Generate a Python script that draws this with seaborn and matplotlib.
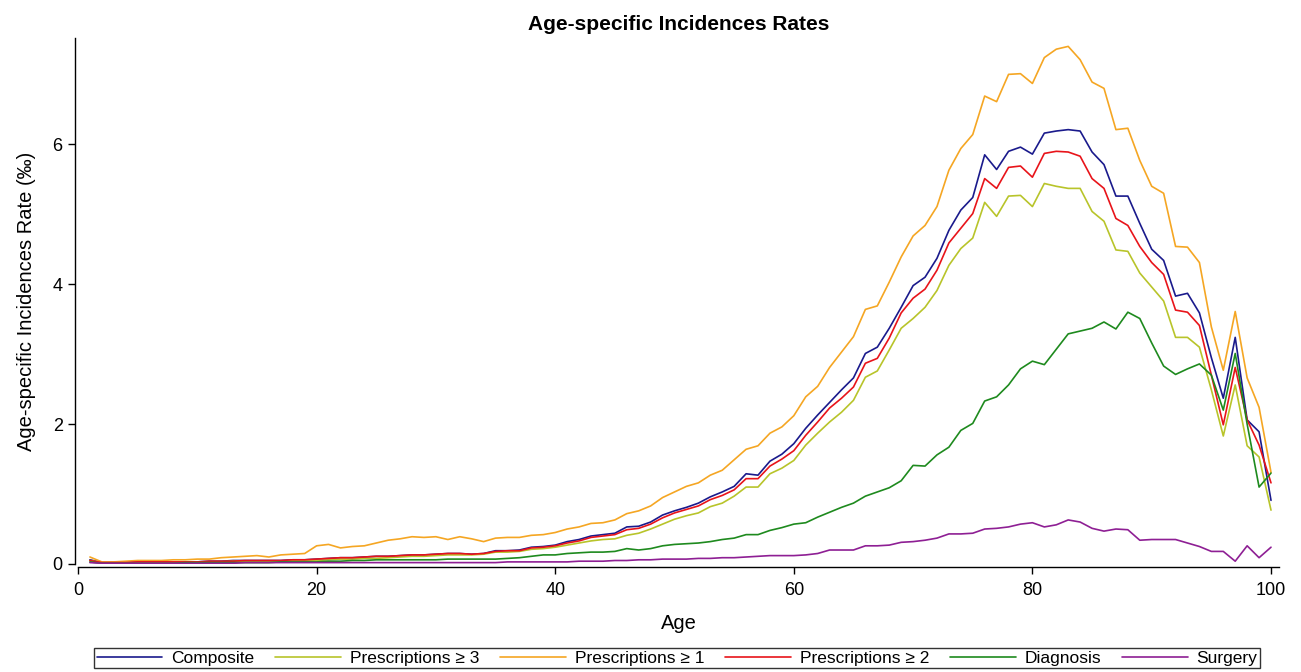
import pandas as pd
import numpy as np
import matplotlib
matplotlib.use("Agg")
import matplotlib.pyplot as plt
import seaborn as sns

ages = list(range(1, 101))

composite = [
    0.06, 0.02, 0.02, 0.02, 0.03, 0.03, 0.03, 0.03, 0.03, 0.03,
    0.04, 0.04, 0.05, 0.05, 0.05, 0.05, 0.05, 0.06, 0.06, 0.07,
    0.08, 0.09, 0.09, 0.10, 0.11, 0.11, 0.12, 0.13, 0.13, 0.14,
    0.15, 0.15, 0.14, 0.15, 0.19, 0.19, 0.20, 0.24, 0.25, 0.27,
    0.32, 0.35, 0.40, 0.42, 0.44, 0.53, 0.54, 0.60, 0.70, 0.76,
    0.81, 0.87, 0.96, 1.03, 1.11, 1.29, 1.27, 1.47, 1.57, 1.72,
    1.94, 2.13, 2.31, 2.49, 2.66, 3.01, 3.10, 3.37, 3.67, 3.98,
    4.10, 4.37, 4.77, 5.06, 5.24, 5.85, 5.64, 5.90, 5.96, 5.86,
    6.16, 6.19, 6.21, 6.19, 5.89, 5.71, 5.26, 5.26, 4.87, 4.50,
    4.34, 3.83, 3.87, 3.59, 2.95, 2.37, 3.24, 2.06, 1.89, 0.91,
]

presc3 = [
    0.05, 0.02, 0.02, 0.02, 0.02, 0.02, 0.02, 0.03, 0.03, 0.03,
    0.03, 0.03, 0.04, 0.04, 0.04, 0.04, 0.04, 0.05, 0.05, 0.05,
    0.06, 0.07, 0.07, 0.08, 0.08, 0.09, 0.10, 0.11, 0.11, 0.12,
    0.13, 0.13, 0.13, 0.14, 0.17, 0.17, 0.18, 0.21, 0.22, 0.24,
    0.27, 0.30, 0.33, 0.35, 0.36, 0.41, 0.44, 0.50, 0.57, 0.64,
    0.69, 0.73, 0.82, 0.87, 0.97, 1.10, 1.10, 1.29, 1.37, 1.48,
    1.70, 1.87, 2.03, 2.17, 2.34, 2.67, 2.76, 3.06, 3.37, 3.51,
    3.67, 3.91, 4.27, 4.51, 4.66, 5.17, 4.97, 5.26, 5.27, 5.11,
    5.44, 5.40, 5.37, 5.37, 5.04, 4.90, 4.49, 4.47, 4.16, 3.96,
    3.76, 3.24, 3.24, 3.10, 2.49, 1.83, 2.56, 1.69, 1.53, 0.77,
]

presc1 = [
    0.10, 0.03, 0.03, 0.04, 0.05, 0.05, 0.05, 0.06, 0.06, 0.07,
    0.07, 0.09, 0.10, 0.11, 0.12, 0.10, 0.13, 0.14, 0.15, 0.26,
    0.28, 0.23, 0.25, 0.26, 0.30, 0.34, 0.36, 0.39, 0.38, 0.39,
    0.35, 0.39, 0.36, 0.32, 0.37, 0.38, 0.38, 0.41, 0.42, 0.45,
    0.50, 0.53, 0.58, 0.59, 0.63, 0.72, 0.76, 0.83, 0.95, 1.03,
    1.11, 1.16, 1.27, 1.34, 1.49, 1.64, 1.69, 1.87, 1.96, 2.12,
    2.39, 2.54, 2.81, 3.03, 3.25, 3.64, 3.69, 4.03, 4.39, 4.69,
    4.84, 5.11, 5.63, 5.94, 6.14, 6.69, 6.61, 7.00, 7.01, 6.87,
    7.24, 7.36, 7.40, 7.21, 6.89, 6.80, 6.21, 6.23, 5.77, 5.40,
    5.30, 4.54, 4.53, 4.31, 3.39, 2.77, 3.61, 2.66, 2.24, 1.31,
]

presc2 = [
    0.05, 0.02, 0.02, 0.02, 0.03, 0.03, 0.03, 0.03, 0.03, 0.03,
    0.04, 0.04, 0.04, 0.05, 0.05, 0.05, 0.05, 0.06, 0.06, 0.07,
    0.08, 0.09, 0.09, 0.10, 0.11, 0.11, 0.12, 0.13, 0.13, 0.14,
    0.15, 0.15, 0.14, 0.15, 0.18, 0.19, 0.19, 0.23, 0.24, 0.26,
    0.30, 0.33, 0.38, 0.40, 0.42, 0.49, 0.51, 0.57, 0.66, 0.73,
    0.78, 0.83, 0.92, 0.98, 1.06, 1.22, 1.22, 1.40, 1.50, 1.62,
    1.84, 2.03, 2.23, 2.37, 2.53, 2.87, 2.94, 3.23, 3.59, 3.80,
    3.93, 4.20, 4.59, 4.80, 5.01, 5.51, 5.37, 5.67, 5.69, 5.53,
    5.87, 5.90, 5.89, 5.83, 5.51, 5.37, 4.94, 4.84, 4.54, 4.31,
    4.14, 3.63, 3.60, 3.41, 2.70, 1.99, 2.81, 2.06, 1.70, 1.16,
]

diagnosis = [
    0.03, 0.01, 0.01, 0.01, 0.01, 0.01, 0.01, 0.01, 0.02, 0.02,
    0.02, 0.02, 0.02, 0.02, 0.02, 0.02, 0.03, 0.03, 0.03, 0.03,
    0.04, 0.04, 0.05, 0.05, 0.06, 0.06, 0.06, 0.06, 0.06, 0.06,
    0.07, 0.07, 0.07, 0.07, 0.07, 0.08, 0.09, 0.11, 0.13, 0.13,
    0.15, 0.16, 0.17, 0.17, 0.18, 0.22, 0.20, 0.22, 0.26, 0.28,
    0.29, 0.30, 0.32, 0.35, 0.37, 0.42, 0.42, 0.48, 0.52, 0.57,
    0.59, 0.67, 0.74, 0.81, 0.87, 0.97, 1.03, 1.09, 1.19, 1.41,
    1.40, 1.56, 1.67, 1.91, 2.01, 2.33, 2.39, 2.56, 2.79, 2.90,
    2.85, 3.07, 3.29, 3.33, 3.37, 3.46, 3.36, 3.60, 3.51, 3.16,
    2.83, 2.71, 2.79, 2.86, 2.70, 2.20, 3.01, 2.00, 1.10, 1.30,
]

surgery = [
    0.02, 0.01, 0.01, 0.01, 0.01, 0.01, 0.01, 0.01, 0.01, 0.01,
    0.01, 0.01, 0.01, 0.02, 0.02, 0.02, 0.02, 0.02, 0.02, 0.02,
    0.02, 0.02, 0.02, 0.02, 0.02, 0.02, 0.02, 0.02, 0.02, 0.02,
    0.02, 0.02, 0.02, 0.02, 0.02, 0.03, 0.03, 0.03, 0.03, 0.03,
    0.03, 0.04, 0.04, 0.04, 0.05, 0.05, 0.06, 0.06, 0.07, 0.07,
    0.07, 0.08, 0.08, 0.09, 0.09, 0.10, 0.11, 0.12, 0.12, 0.12,
    0.13, 0.15, 0.20, 0.20, 0.20, 0.26, 0.26, 0.27, 0.31, 0.32,
    0.34, 0.37, 0.43, 0.43, 0.44, 0.50, 0.51, 0.53, 0.57, 0.59,
    0.53, 0.56, 0.63, 0.60, 0.51, 0.47, 0.50, 0.49, 0.34, 0.35,
    0.35, 0.35, 0.30, 0.25, 0.18, 0.18, 0.04, 0.26, 0.09, 0.24,
]

labels = ["Composite", "Prescriptions \u2265 3", "Prescriptions \u2265 1",
          "Prescriptions \u2265 2", "Diagnosis", "Surgery"]
colors = ["#1a1a8c", "#b8c42a", "#f5a623", "#e8141a", "#1e8a1e", "#8e1f94"]

series = [composite, presc3, presc1, presc2, diagnosis, surgery]
df = pd.concat(
    [pd.DataFrame({"age": ages, "rate": vals, "group": lab}) for lab, vals in zip(labels, series)],
    ignore_index=True,
)

sns.set_style("ticks")
plt.rcParams["font.family"] = ["Liberation Sans", "DejaVu Sans"]
plt.rcParams["text.color"] = "black"
plt.rcParams["axes.labelcolor"] = "black"

fig = plt.figure(figsize=(13.01, 6.72), dpi=100)
ax = fig.add_axes([78 / 1301, 1 - 564 / 672, (1279 - 78) / 1301, (564 - 38) / 672])

sns.lineplot(data=df, x="age", y="rate", hue="group", hue_order=labels,
             palette=dict(zip(labels, colors)), linewidth=1.2, ax=ax, legend=False)

ax.set_xlim(0, 100.67)
ax.set_ylim(0, 7.52)
ax.set_xticks([0, 20, 40, 60, 80, 100])
ax.set_yticks([0, 2, 4, 6])
ax.tick_params(labelsize=13, length=5, width=1, colors="black")
ax.tick_params(axis="x", pad=6)
ax.tick_params(axis="y", pad=4)
ax.set_xlabel("Age", fontsize=14.5, labelpad=11)
ax.set_ylabel("Age-specific Incidences Rate (\u2030)", fontsize=14.5, labelpad=12)
ax.set_title("Age-specific Incidences Rates", fontsize=15, fontweight="bold", pad=6)
sns.despine(ax=ax, offset=2)
for sp in ["left", "bottom"]:
    ax.spines[sp].set_linewidth(1.0)
    ax.spines[sp].set_color("black")

handles = [plt.Line2D([], [], color=c, lw=1.2) for c in colors]
leg = fig.legend(handles, labels, loc="lower center", bbox_to_anchor=(677 / 1301, 0.0),
                 ncol=6, fontsize=12.5, frameon=True, fancybox=False, handlelength=3.8,
                 handletextpad=0.5, columnspacing=1.2, borderpad=0.12, borderaxespad=0.25)
leg.get_frame().set_edgecolor("black")
leg.get_frame().set_linewidth(1.0)

plt.savefig("out.png", dpi=100)
